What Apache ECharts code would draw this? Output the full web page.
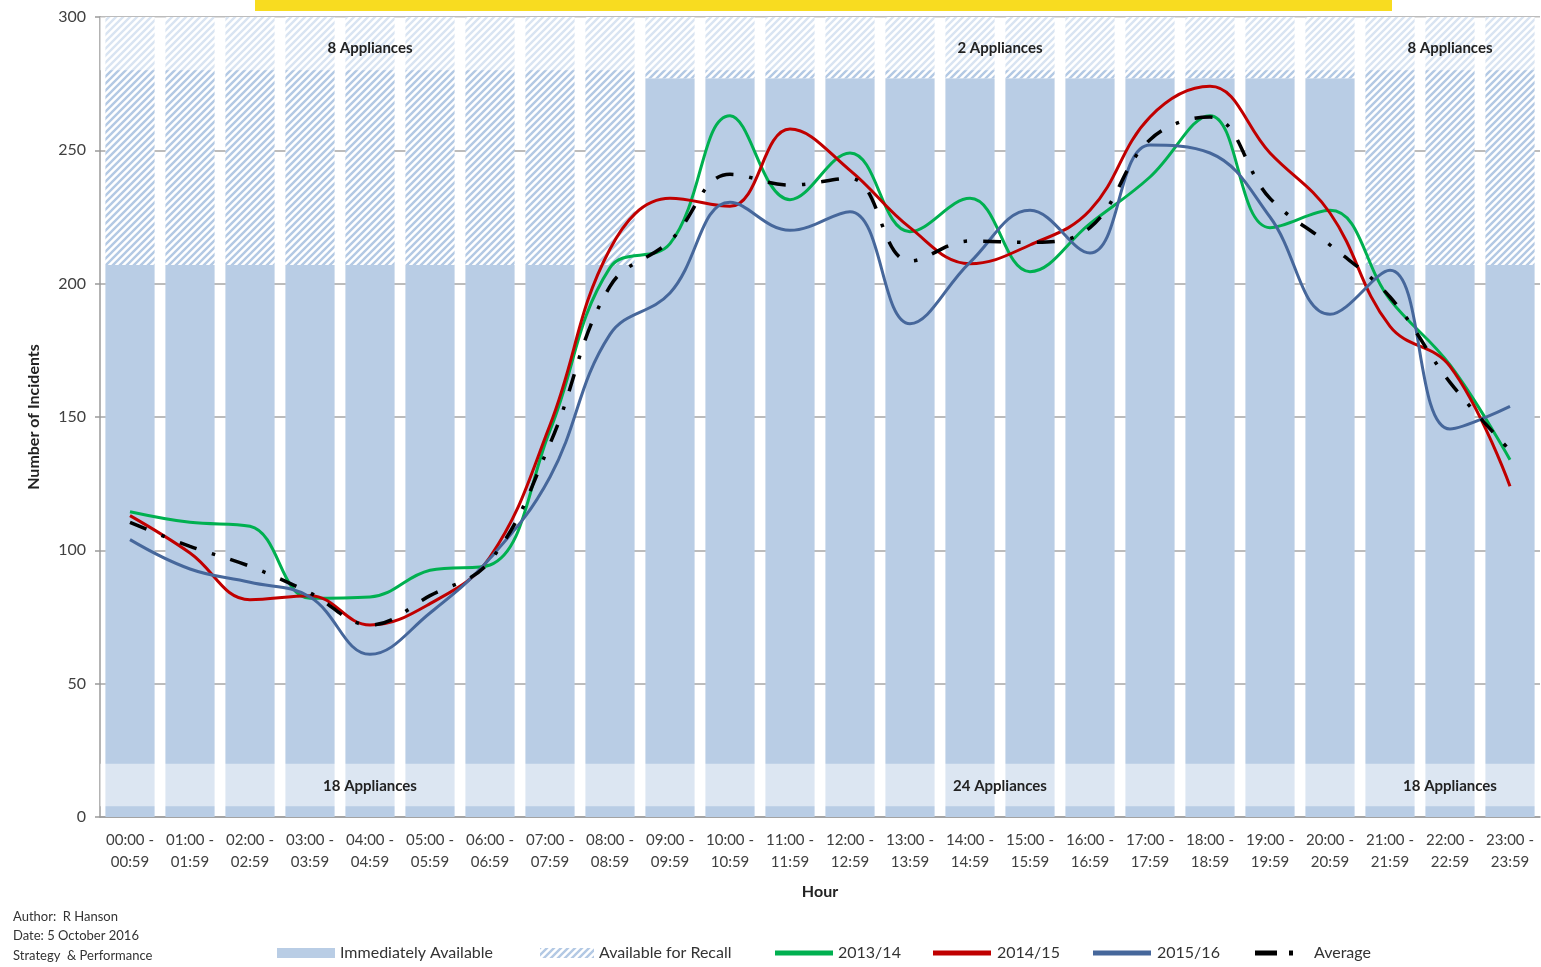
<!DOCTYPE html>
<html><head><meta charset="utf-8">
<script src="https://cdn.jsdelivr.net/npm/echarts@6/dist/echarts.min.js"></script>
<style>html,body{margin:0;padding:0;background:#fff}#c{width:1541px;height:967px}</style>
</head><body><div id="c"></div>
<script>
const hours = ['00:00 -\n00:59','01:00 -\n01:59','02:00 -\n02:59','03:00 -\n03:59','04:00 -\n04:59','05:00 -\n05:59',
  '06:00 -\n06:59','07:00 -\n07:59','08:00 -\n08:59','09:00 -\n09:59','10:00 -\n10:59','11:00 -\n11:59',
  '12:00 -\n12:59','13:00 -\n13:59','14:00 -\n14:59','15:00 -\n15:59','16:00 -\n16:59','17:00 -\n17:59',
  '18:00 -\n18:59','19:00 -\n19:59','20:00 -\n20:59','21:00 -\n21:59','22:00 -\n22:59','23:00 -\n23:59'];
const immediate = [207,207,207,207,207,207,207,207,207,277,277,277,277,277,277,277,277,277,277,277,277,207,207,207];
const recall    = [93,93,93,93,93,93,93,93,93,23,23,23,23,23,23,23,23,23,23,23,23,93,93,93];
const y1314 = [114.5,110.5,109,82,82.5,92.5,94.5,145,206,215,263,231.5,249,219.5,232,204.5,222.5,240,263,221,227.5,194,169.5,134];
const y1415 = [113,99,81.5,83,72,80,97.5,147,213,232,229,258,242.5,221,207.5,214.5,227.5,262.5,274,249,226.5,184,169,124];
const y1516 = [104,93,88,82.5,61,76.5,97,127.5,181,196.5,230.5,220,227,185,208,227.5,211.5,252,249,225,188.5,205,145.5,154];
const yAvg  = [110.5,101.5,94,84,72,83,96,140,199,216,241,237,239.5,208.5,216,215.5,221,254,262.5,232,214.5,195,163,137.5];
// annotation boxes: [fromHour, toHour, low, high, label]
const topBoxes = [[0,9,280,300,'8 Appliances'],[9,21,280,300,'2 Appliances'],[21,24,280,300,'8 Appliances']];
const bottomBoxes = [[0,9,4,20,'18 Appliances'],[9,21,4,20,'24 Appliances'],[21,24,4,20,'18 Appliances']];
const footer = ['Author:  R Hanson','Date: 5 October 2016','Strategy  & Performance'];

function hatch(){
  const s=7, c=document.createElement('canvas'); c.width=s; c.height=s;
  const g=c.getContext('2d'); g.fillStyle='#fff'; g.fillRect(0,0,s,s);
  g.strokeStyle='#b3c9e4'; g.lineWidth=2.4; g.beginPath();
  g.moveTo(0,s); g.lineTo(s,0);
  g.moveTo(-1,1); g.lineTo(1,-1);
  g.moveTo(s-1,s+1); g.lineTo(s+1,s-1);
  g.stroke(); return c;
}
const pat = {image: hatch(), repeat:'repeat'};
const FONT = 'Lato, "Liberation Sans", sans-serif';
const boxLabel = {show:true, position:'inside', fontWeight:'bold', fontSize:15, color:'#222', fontFamily:FONT};
function boxes(list, off){
  return list.map(b => [{xAxis:b[0], yAxis:b[2], name:b[4], label:Object.assign({}, boxLabel, {offset:[0,off]})},{xAxis:b[1], yAxis:b[3]}]);
}
const lineIcon = 'path://M0,0H58V5H0Z';
const avgIcon = 'path://M0,0H22V5H0Z M34,0H38V5H34Z';
const lg = (left, name, w, h, icon, pad) => ({left, top:940, itemWidth:w, itemHeight:h, itemGap:0, data:[name],
  icon: icon, textStyle:{fontSize:16, color:'#333', fontFamily:FONT, padding:[0,0,0,pad||0]}});

const chart = echarts.init(document.getElementById('c'));
chart.setOption({
  animation:false,
  textStyle:{fontFamily:FONT},
  grid:{left:100, right:1, top:17, bottom:150},
  xAxis:[{type:'category', data:hours,
    axisLine:{lineStyle:{color:'#9a9a9a', width:1.5}},
    axisTick:{length:7, lineStyle:{color:'#9a9a9a', width:1.5}},
    axisLabel:{color:'#404040', fontSize:15, lineHeight:22, margin:12, interval:0},
    name:'Hour', nameLocation:'middle', nameGap:67, nameTextStyle:{fontWeight:'bold', fontSize:16, color:'#222'}},
    {type:'value', min:0, max:24, show:false}],
  yAxis:{type:'value', min:0, max:300, interval:50,
    axisLine:{show:true, lineStyle:{color:'#9a9a9a', width:1.5}},
    axisTick:{show:true, length:5, lineStyle:{color:'#9a9a9a', width:1.5}},
    splitLine:{lineStyle:{color:'#a6a6a6', width:1.5}},
    axisLabel:{fontSize:16, color:'#404040', margin:14},
    name:'Number of Incidents', nameLocation:'middle', nameGap:58, nameRotate:90,
    nameTextStyle:{fontWeight:'bold', fontSize:16, color:'#222'}},
  legend:[lg(272,'Immediately Available',58,10,'rect'), lg(535,'Available for Recall',54,10,'rect'),
          lg(770,'2013/14',58,5,lineIcon), lg(928,'2014/15',60,5,lineIcon), lg(1088,'2015/16',60,5,lineIcon),
          lg(1250,'Average',38,5,avgIcon,16)],
  graphic:[
    {type:'rect', shape:{x:255, y:0, width:1137, height:11}, style:{fill:'#f8dc20'}},
    {type:'text', left:13, top:907, style:{text:footer.join('\n'), font:'13px '+FONT, lineHeight:19.5, fill:'#333'}}
  ],
  series:[
    {name:'Immediately Available', type:'bar', stack:'cap', data:immediate, barCategoryGap:'18%',
      itemStyle:{color:'#b9cde5'}, z:2},
    {name:'Available for Recall', type:'bar', stack:'cap', data:recall,
      itemStyle:{color:pat}, z:2},
    {name:'boxes', type:'line', xAxisIndex:1, data:[], z:3, silent:true,
      markArea:{silent:true, z:4, itemStyle:{color:'rgba(255,255,255,0.5)', borderWidth:0},
        data: boxes(topBoxes,4).concat(boxes(bottomBoxes,1))}},
    {name:'2013/14', type:'line', data:y1314, smooth:0.4, symbol:'none', z:5,
      lineStyle:{color:'#00b050', width:3}, itemStyle:{color:'#00b050'}},
    {name:'2014/15', type:'line', data:y1415, smooth:0.4, symbol:'none', z:5,
      lineStyle:{color:'#c00000', width:3}, itemStyle:{color:'#c00000'}},
    {name:'2015/16', type:'line', data:y1516, smooth:0.4, symbol:'none', z:5,
      lineStyle:{color:'#46679b', width:3}, itemStyle:{color:'#46679b'}},
    {name:'Average', type:'line', data:yAvg, smooth:0.4, symbol:'none', z:6,
      lineStyle:{color:'#000', width:3.5, type:[18,16,3.5,16]}, itemStyle:{color:'#000'}}
  ]
});
</script></body></html>
